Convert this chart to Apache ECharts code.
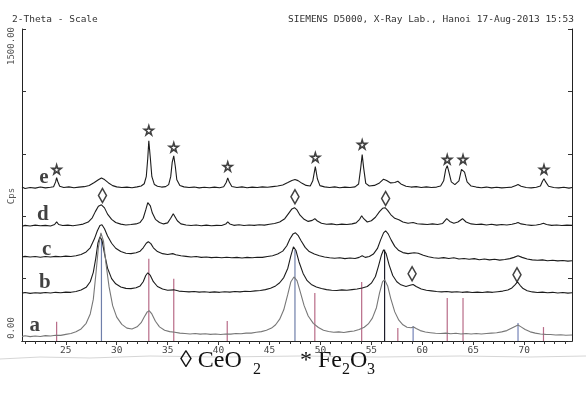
<!DOCTYPE html>
<html>
<head>
<meta charset="utf-8">
<script src="https://cdn.jsdelivr.net/npm/echarts@6/dist/echarts.min.js"></script>
<style>
  html, body { margin: 0; padding: 0; background: #fff; }
  #xrd { width: 586px; height: 393px; }
</style>
</head>
<body>
<div id="xrd"></div>
<script>
// 2-theta tick labels
const xLabels = [25, 30, 35, 40, 45, 50, 55, 60, 65, 70]
const xMinorTicks = [21, 22, 23, 24, 25, 26, 27, 28, 29, 30, 31, 32, 33, 34, 35, 36, 37, 38, 39, 40, 41, 42, 43, 44, 45, 46, 47, 48, 49, 50, 51, 52, 53, 54, 55, 56, 57, 58, 59, 60, 61, 62, 63, 64, 65, 66, 67, 68, 69, 70, 71, 72, 73, 74]

// sample names
const sampleNames = ['e', 'd', 'c', 'b', 'a']
const sampleLabelPos = [[22.84, 786], [22.74, 607], [23.13, 439], [22.94, 280], [21.95, 72]]

// trace e
const traceE = [[20.7,740],[21.0,733],[21.5,738],[22.0,735],[22.5,740],[23.0,736],[23.5,739],[23.8,742],[24.0,765],[24.1,785],[24.2,768],[24.4,744],[24.8,738],[25.3,741],[25.8,737],[26.3,740],[26.8,742],[27.3,748],[27.8,762],[28.2,775],[28.5,784],[28.8,776],[29.2,760],[29.6,747],[30.0,741],[30.5,738],[31.0,740],[31.5,737],[32.0,741],[32.4,745],[32.7,756],[32.9,790],[33.05,880],[33.15,962],[33.3,880],[33.45,790],[33.7,752],[34.0,744],[34.4,740],[34.8,742],[35.1,752],[35.3,790],[35.45,860],[35.6,890],[35.75,840],[35.9,775],[36.2,748],[36.6,741],[37.1,738],[37.6,740],[38.1,736],[38.6,739],[39.1,737],[39.6,740],[40.1,737],[40.5,742],[40.75,762],[40.9,784],[41.05,764],[41.3,743],[41.8,738],[42.3,741],[42.8,737],[43.3,740],[43.8,738],[44.3,741],[44.8,739],[45.3,742],[45.8,745],[46.3,750],[46.8,762],[47.2,772],[47.5,776],[47.8,771],[48.2,758],[48.6,748],[49.0,745],[49.25,770],[49.5,838],[49.7,780],[49.95,747],[50.4,741],[50.9,738],[51.4,741],[51.9,737],[52.4,740],[52.9,738],[53.4,741],[53.75,755],[53.95,830],[54.1,896],[54.25,830],[54.45,758],[54.8,745],[55.3,748],[55.8,760],[56.2,778],[56.5,772],[56.9,760],[57.3,762],[57.6,768],[57.9,755],[58.4,744],[58.9,740],[59.4,742],[59.9,738],[60.4,741],[60.9,738],[61.4,740],[61.8,745],[62.1,770],[62.3,825],[62.45,843],[62.6,815],[62.85,765],[63.2,752],[63.6,770],[63.85,825],[64.0,833],[64.15,812],[64.4,765],[64.8,745],[65.3,740],[65.8,737],[66.3,740],[66.8,736],[67.3,739],[67.8,736],[68.3,738],[68.8,740],[69.2,748],[69.4,752],[69.7,744],[70.2,738],[70.7,736],[71.2,739],[71.6,745],[71.8,768],[71.95,780],[72.1,766],[72.4,744],[72.9,738],[73.4,736],[73.9,739],[74.4,735],[74.7,738]]

// trace d
const traceD = [[20.7,552],[21.0,556],[21.5,553],[22.0,557],[22.5,554],[23.0,556],[23.5,553],[23.9,560],[24.1,573],[24.3,560],[24.7,555],[25.2,557],[25.7,554],[26.2,558],[26.7,562],[27.2,572],[27.6,592],[27.9,622],[28.2,648],[28.5,655],[28.8,640],[29.1,610],[29.5,585],[29.9,570],[30.4,562],[30.9,558],[31.4,560],[31.9,563],[32.3,570],[32.6,590],[32.85,630],[33.05,665],[33.15,670],[33.3,650],[33.5,615],[33.8,585],[34.2,570],[34.6,563],[35.0,568],[35.3,590],[35.55,612],[35.7,605],[35.95,578],[36.3,563],[36.8,558],[37.3,555],[37.8,558],[38.3,554],[38.8,557],[39.3,554],[39.8,556],[40.3,555],[40.7,562],[40.9,573],[41.1,563],[41.5,556],[42.0,559],[42.5,555],[43.0,558],[43.5,556],[44.0,559],[44.5,557],[45.0,561],[45.5,565],[46.0,572],[46.5,588],[46.9,615],[47.2,635],[47.45,641],[47.7,630],[48.0,605],[48.4,585],[48.8,575],[49.2,580],[49.45,588],[49.7,577],[50.1,566],[50.6,561],[51.1,563],[51.6,559],[52.1,562],[52.6,560],[53.1,563],[53.5,568],[53.85,585],[54.05,602],[54.25,588],[54.6,572],[55.0,578],[55.4,595],[55.8,622],[56.1,638],[56.35,641],[56.6,628],[56.9,608],[57.3,590],[57.7,583],[58.1,572],[58.6,566],[59.1,570],[59.5,564],[60.0,562],[60.5,560],[61.0,563],[61.5,560],[62.0,565],[62.4,588],[62.7,575],[63.1,566],[63.5,572],[63.95,588],[64.3,572],[64.8,563],[65.3,560],[65.8,562],[66.3,558],[66.8,561],[67.3,557],[67.8,560],[68.3,558],[68.8,561],[69.2,566],[69.4,570],[69.7,563],[70.2,559],[70.7,556],[71.2,558],[71.6,561],[71.9,566],[72.2,560],[72.7,556],[73.2,558],[73.7,555],[74.2,557],[74.7,556]]

// trace c
const traceC = [[20.7,404],[21.0,407],[21.5,404],[22.0,406],[22.5,403],[23.0,406],[23.5,404],[24.0,407],[24.5,405],[25.0,408],[25.5,406],[26.0,410],[26.5,416],[27.0,428],[27.4,448],[27.8,490],[28.1,530],[28.35,555],[28.55,559],[28.8,540],[29.1,505],[29.5,470],[29.9,446],[30.4,430],[30.9,422],[31.4,420],[31.9,424],[32.3,432],[32.6,448],[32.9,470],[33.1,477],[33.35,468],[33.6,448],[34.0,430],[34.5,420],[35.0,416],[35.5,420],[35.8,415],[36.3,410],[36.8,407],[37.3,404],[37.8,406],[38.3,402],[38.8,404],[39.3,401],[39.8,403],[40.3,400],[40.8,403],[41.3,400],[41.8,402],[42.3,399],[42.8,402],[43.3,400],[43.8,403],[44.3,402],[44.8,406],[45.3,410],[45.8,418],[46.3,432],[46.7,458],[47.0,490],[47.3,514],[47.55,520],[47.8,508],[48.1,482],[48.5,450],[48.9,430],[49.4,418],[49.9,410],[50.4,404],[50.9,400],[51.4,398],[51.9,400],[52.4,396],[52.9,399],[53.4,397],[53.8,402],[54.1,410],[54.4,402],[54.8,406],[55.2,418],[55.6,445],[55.9,485],[56.2,520],[56.4,530],[56.65,515],[56.95,485],[57.3,455],[57.7,435],[58.1,425],[58.6,420],[59.2,424],[59.6,422],[60.1,412],[60.6,405],[61.1,400],[61.6,398],[62.1,401],[62.6,397],[63.1,400],[63.6,394],[64.1,397],[64.6,393],[65.1,396],[65.6,391],[66.1,394],[66.6,390],[67.1,393],[67.6,389],[68.1,392],[68.6,396],[69.0,402],[69.4,410],[69.8,402],[70.3,394],[70.8,390],[71.3,388],[71.8,390],[72.3,386],[72.8,388],[73.3,385],[73.8,387],[74.3,384],[74.7,386]]

// trace b
const traceB = [[20.7,230],[21.0,233],[21.5,229],[22.0,232],[22.5,230],[23.0,233],[23.5,231],[24.0,234],[24.5,232],[25.0,235],[25.5,234],[26.0,238],[26.5,245],[27.0,258],[27.4,285],[27.7,330],[27.95,400],[28.15,470],[28.35,501],[28.55,485],[28.8,420],[29.1,350],[29.5,300],[29.9,275],[30.4,260],[30.9,253],[31.4,252],[31.9,256],[32.3,265],[32.6,285],[32.85,315],[33.05,328],[33.3,315],[33.6,285],[34.0,262],[34.5,250],[35.0,244],[35.6,246],[36.1,240],[36.6,238],[37.1,236],[37.6,238],[38.1,235],[38.6,237],[39.1,234],[39.6,236],[40.1,234],[40.6,237],[41.1,235],[41.6,238],[42.1,236],[42.6,239],[43.1,238],[43.6,241],[44.1,243],[44.6,247],[45.1,254],[45.6,265],[46.0,280],[46.4,305],[46.8,350],[47.1,410],[47.35,453],[47.6,435],[47.9,380],[48.3,325],[48.7,290],[49.1,272],[49.6,260],[50.1,252],[50.6,247],[51.1,244],[51.6,243],[52.1,246],[52.6,244],[53.1,247],[53.6,250],[54.1,255],[54.6,262],[55.0,278],[55.4,310],[55.7,360],[56.0,415],[56.2,439],[56.45,420],[56.75,365],[57.1,315],[57.5,285],[57.9,270],[58.4,262],[58.8,268],[59.1,272],[59.4,262],[59.9,250],[60.4,244],[60.9,241],[61.4,238],[61.9,236],[62.4,238],[62.9,235],[63.4,237],[63.9,234],[64.4,236],[64.9,233],[65.4,235],[65.9,233],[66.4,236],[66.9,234],[67.4,237],[67.9,240],[68.4,245],[68.8,255],[69.1,270],[69.35,284],[69.6,268],[69.9,252],[70.3,242],[70.8,236],[71.3,233],[71.8,235],[72.3,232],[72.8,234],[73.3,231],[73.8,233],[74.3,230],[74.7,232]]

// trace a
const traceA = [[20.7,22],[21.0,25],[21.5,21],[22.0,24],[22.5,22],[23.0,26],[23.5,24],[24.0,28],[24.5,27],[25.0,32],[25.5,36],[26.0,44],[26.5,58],[27.0,85],[27.4,130],[27.7,200],[27.95,320],[28.2,450],[28.45,520],[28.7,480],[28.95,370],[29.25,260],[29.6,170],[30.0,115],[30.5,80],[31.0,62],[31.5,58],[32.0,68],[32.4,88],[32.7,115],[33.0,140],[33.2,145],[33.45,130],[33.8,95],[34.2,68],[34.7,52],[35.2,45],[35.7,42],[36.2,38],[36.7,36],[37.2,34],[37.7,36],[38.2,33],[38.7,35],[39.2,32],[39.7,34],[40.2,31],[40.7,34],[41.2,33],[41.7,36],[42.2,35],[42.7,38],[43.2,38],[43.7,42],[44.2,45],[44.7,52],[45.2,62],[45.6,78],[46.0,105],[46.4,150],[46.8,225],[47.1,285],[47.4,308],[47.7,290],[48.0,240],[48.4,170],[48.8,120],[49.3,85],[49.8,65],[50.3,52],[50.8,46],[51.3,42],[51.8,44],[52.3,41],[52.8,45],[53.3,48],[53.8,55],[54.3,66],[54.7,82],[55.1,110],[55.5,160],[55.8,230],[56.1,285],[56.3,294],[56.6,265],[56.9,205],[57.3,140],[57.7,100],[58.1,78],[58.5,66],[58.9,64],[59.15,67],[59.4,60],[59.8,50],[60.3,43],[60.8,40],[61.3,37],[61.8,36],[62.3,38],[62.8,35],[63.3,37],[63.8,34],[64.3,36],[64.8,34],[65.3,36],[65.8,34],[66.3,36],[66.8,38],[67.3,40],[67.8,44],[68.3,50],[68.7,60],[69.1,70],[69.4,77],[69.7,68],[70.1,55],[70.6,44],[71.1,38],[71.6,34],[72.1,32],[72.6,31],[73.1,29],[73.6,30],[74.1,28],[74.7,29]]

// reference sticks
const fe2o3Pos = [24.1, 33.15, 35.6, 40.85, 49.45, 54.05, 57.6, 62.45, 64.0, 71.9]
const fe2o3Height = [92, 395, 299, 96, 231, 284, 63, 207, 207, 67]
const ceo2Pos = [28.5, 47.5, 56.3, 59.1, 69.4]
const ceo2Height = [487, 439, 439, 72, 87]

// phase markers
const starMarks = [[24.1, 825], [33.15, 1013], [35.6, 931], [40.9, 839], [49.5, 883], [54.1, 945], [62.45, 873], [64.0, 873], [71.95, 825]]
const diamondMarks = [[28.6, 699], [47.5, 694], [56.4, 685], [59.0, 323], [69.3, 318]]

const ceo2Colors = ['#6f7faa', '#6f7faa', '#1e1e2a', '#7584b8', '#7584b8']
const monoFont = 'DejaVu Sans Mono'
const starPath = 'path://M50,0 L61,35 L98,35 L68,57 L79,91 L50,70 L21,91 L32,57 L2,35 L39,35 Z'

const myChart = echarts.init(document.getElementById('xrd'))

function stickSeries (pos, heights, colorFn) {
  return {
    type: 'custom',
    z: 1,
    silent: true,
    data: pos.map((p, i) => [p, heights[i]]),
    encode: { x: 0, y: 1 },
    renderItem: (params, api) => {
      const p0 = api.coord([api.value(0), 0])
      const p1 = api.coord([api.value(0), api.value(1)])
      return {
        type: 'line',
        shape: { x1: p0[0], y1: p0[1], x2: p1[0], y2: p1[1] },
        style: { stroke: colorFn(params.dataIndex), lineWidth: 1.2 }
      }
    }
  }
}

const traceList = [traceE, traceD, traceC, traceB, traceA]
const traceSeries = traceList.map((tr, i) => ({
  type: 'line',
  z: 2,
  data: tr,
  showSymbol: false,
  silent: true,
  lineStyle: { color: i === 4 ? '#777' : '#1c1c1c', width: 1.1 }
}))

const option = {
  backgroundColor: '#fff',
  animation: false,
  grid: { left: 22, right: 14, top: 29, bottom: 52 },
  xAxis: [
    {
      type: 'value',
      min: 20.7,
      max: 74.7,
      position: 'bottom',
      axisLine: { lineStyle: { color: '#222', width: 1 } },
      axisTick: { customValues: xMinorTicks, length: 3, lineStyle: { color: '#333' } },
      axisLabel: { customValues: xLabels, fontFamily: monoFont, fontSize: 9.5, color: '#444', margin: 5 },
      splitLine: { show: false }
    },
    {
      type: 'value',
      min: 20.7,
      max: 74.7,
      position: 'top',
      axisLine: { lineStyle: { color: '#222', width: 1 } },
      axisTick: { customValues: xLabels, inside: true, length: 4, lineStyle: { color: '#333' } },
      axisLabel: { show: false },
      splitLine: { show: false }
    }
  ],
  yAxis: [
    {
      type: 'value',
      min: 0,
      max: 1500,
      interval: 300,
      position: 'left',
      axisLine: { show: true, lineStyle: { color: '#222', width: 1 } },
      axisTick: { show: true, inside: true, length: 4, lineStyle: { color: '#333' } },
      axisLabel: { show: false },
      splitLine: { show: false }
    },
    {
      type: 'value',
      min: 0,
      max: 1500,
      interval: 300,
      position: 'right',
      axisLine: { show: true, lineStyle: { color: '#222', width: 1 } },
      axisTick: { show: true, inside: true, length: 4, lineStyle: { color: '#333' } },
      axisLabel: { show: false },
      splitLine: { show: false }
    }
  ],
  series: [
    stickSeries(fe2o3Pos, fe2o3Height, () => '#b86b88'),
    stickSeries(ceo2Pos, ceo2Height, (i) => ceo2Colors[i]),
    ...traceSeries,
    {
      type: 'scatter',
      z: 3,
      silent: true,
      data: starMarks,
      symbol: starPath,
      symbolSize: 9,
      itemStyle: { color: '#fff', borderColor: '#111', borderWidth: 1.6 }
    },
    {
      type: 'scatter',
      z: 3,
      silent: true,
      data: diamondMarks,
      symbol: 'diamond',
      symbolSize: [8, 14],
      itemStyle: { color: '#fff', borderColor: '#111', borderWidth: 1.6 }
    },
    {
      type: 'scatter',
      z: 4,
      silent: true,
      symbolSize: 0,
      data: sampleLabelPos.map((p, i) => [p[0], p[1], sampleNames[i]]),
      label: {
        show: true,
        position: 'inside',
        formatter: (p) => p.value[2],
        fontFamily: 'Liberation Serif',
        fontWeight: 'bold',
        fontSize: 21,
        color: '#111'
      }
    }
  ],
  graphic: [
    { type: 'text', left: 12, top: 15, style: { text: '2-Theta - Scale', font: '9.5px "DejaVu Sans Mono"', fill: '#333' } },
    { type: 'text', right: 12, top: 15, style: { text: 'SIEMENS D5000, X-Ray Lab., Hanoi 17-Aug-2013 15:53', font: '9.5px "DejaVu Sans Mono"', fill: '#333' } },
    { type: 'text', x: 12, y: 46, rotation: Math.PI / 2, style: { text: '1500.00', font: '9px "DejaVu Sans Mono"', fill: '#555', align: 'center', verticalAlign: 'middle' } },
    { type: 'text', x: 12, y: 196, rotation: Math.PI / 2, style: { text: 'Cps', font: '9px "DejaVu Sans Mono"', fill: '#555', align: 'center', verticalAlign: 'middle' } },
    { type: 'text', x: 12, y: 328, rotation: Math.PI / 2, style: { text: '0.00', font: '9px "DejaVu Sans Mono"', fill: '#555', align: 'center', verticalAlign: 'middle' } },
    { type: 'polyline', silent: true, shape: { points: [[0, 359], [40, 357], [90, 358], [150, 356], [220, 357], [300, 356], [380, 357], [460, 356], [530, 357], [586, 356]] }, style: { stroke: '#d6d6d6', lineWidth: 1 } },
    { type: 'text', x: 180, y: 361, style: { text: '\u25CA CeO', font: '24px "Liberation Serif"', fill: '#111', verticalAlign: 'middle' } },
    { type: 'text', x: 253, y: 370, style: { text: '2', font: '16px "Liberation Serif"', fill: '#111', verticalAlign: 'middle' } },
    { type: 'text', x: 300, y: 361, style: { text: '* Fe', font: '24px "Liberation Serif"', fill: '#111', verticalAlign: 'middle' } },
    { type: 'text', x: 342, y: 370, style: { text: '2', font: '16px "Liberation Serif"', fill: '#111', verticalAlign: 'middle' } },
    { type: 'text', x: 350, y: 361, style: { text: 'O', font: '24px "Liberation Serif"', fill: '#111', verticalAlign: 'middle' } },
    { type: 'text', x: 367, y: 370, style: { text: '3', font: '16px "Liberation Serif"', fill: '#111', verticalAlign: 'middle' } }
  ]
}

myChart.setOption(option)
</script>
</body>
</html>
